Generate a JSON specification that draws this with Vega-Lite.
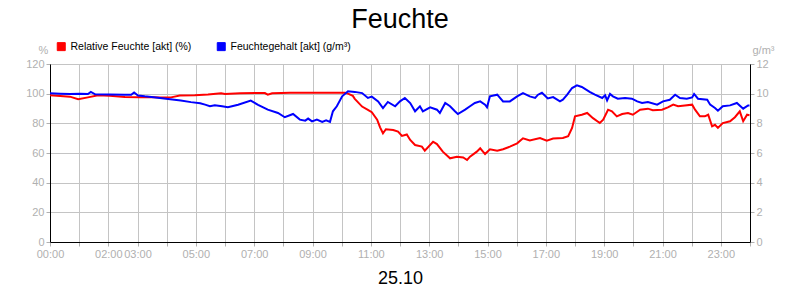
{
  "$schema": "https://vega.github.io/schema/vega-lite/v6.json",
  "width": 700,
  "height": 178,
  "autosize": "none",
  "padding": {"left": 50, "top": 64, "right": 50, "bottom": 58},
  "background": "white",
  "title": {"text": "Feuchte", "fontSize": 27, "font": "Liberation Sans", "fontWeight": "normal", "color": "black", "anchor": "middle", "offset": 7},
  "datasets": {
    "rel": [
      {"t": "2023-10-25T00:00", "v": 98.9}, {"t": "2023-10-25T00:21", "v": 98.5}, {"t": "2023-10-25T00:41", "v": 98.0},
      {"t": "2023-10-25T00:58", "v": 96.3}, {"t": "2023-10-25T01:18", "v": 97.5}, {"t": "2023-10-25T01:39", "v": 98.9},
      {"t": "2023-10-25T02:03", "v": 98.6}, {"t": "2023-10-25T02:34", "v": 97.8}, {"t": "2023-10-25T03:05", "v": 97.6},
      {"t": "2023-10-25T03:22", "v": 97.8}, {"t": "2023-10-25T03:46", "v": 97.4}, {"t": "2023-10-25T04:09", "v": 97.5},
      {"t": "2023-10-25T04:27", "v": 98.7}, {"t": "2023-10-25T04:58", "v": 98.9}, {"t": "2023-10-25T05:25", "v": 99.4},
      {"t": "2023-10-25T05:52", "v": 100.3}, {"t": "2023-10-25T06:00", "v": 99.8}, {"t": "2023-10-25T06:31", "v": 100.2},
      {"t": "2023-10-25T07:02", "v": 100.4}, {"t": "2023-10-25T07:22", "v": 100.4}, {"t": "2023-10-25T07:28", "v": 99.3},
      {"t": "2023-10-25T07:37", "v": 100.3}, {"t": "2023-10-25T08:14", "v": 100.6}, {"t": "2023-10-25T08:55", "v": 100.6},
      {"t": "2023-10-25T09:36", "v": 100.6}, {"t": "2023-10-25T10:07", "v": 100.6}, {"t": "2023-10-25T10:13", "v": 100.0},
      {"t": "2023-10-25T10:23", "v": 98.5}, {"t": "2023-10-25T10:27", "v": 96.5}, {"t": "2023-10-25T10:42", "v": 91.3},
      {"t": "2023-10-25T10:54", "v": 89.1}, {"t": "2023-10-25T11:02", "v": 87.5}, {"t": "2023-10-25T11:13", "v": 82.5},
      {"t": "2023-10-25T11:19", "v": 77.3}, {"t": "2023-10-25T11:25", "v": 73.3}, {"t": "2023-10-25T11:31", "v": 76.0},
      {"t": "2023-10-25T11:46", "v": 75.5}, {"t": "2023-10-25T11:56", "v": 74.4}, {"t": "2023-10-25T12:04", "v": 71.5},
      {"t": "2023-10-25T12:14", "v": 72.5}, {"t": "2023-10-25T12:21", "v": 68.8}, {"t": "2023-10-25T12:31", "v": 65.4},
      {"t": "2023-10-25T12:45", "v": 64.3}, {"t": "2023-10-25T12:51", "v": 61.6}, {"t": "2023-10-25T13:08", "v": 67.6},
      {"t": "2023-10-25T13:16", "v": 66.0}, {"t": "2023-10-25T13:28", "v": 60.9}, {"t": "2023-10-25T13:43", "v": 56.4},
      {"t": "2023-10-25T13:57", "v": 57.5}, {"t": "2023-10-25T14:10", "v": 57.0}, {"t": "2023-10-25T14:18", "v": 55.3},
      {"t": "2023-10-25T14:24", "v": 57.5}, {"t": "2023-10-25T14:38", "v": 60.9}, {"t": "2023-10-25T14:45", "v": 63.2},
      {"t": "2023-10-25T14:55", "v": 59.3}, {"t": "2023-10-25T15:05", "v": 62.5}, {"t": "2023-10-25T15:20", "v": 61.5},
      {"t": "2023-10-25T15:32", "v": 62.5}, {"t": "2023-10-25T15:46", "v": 64.3}, {"t": "2023-10-25T16:01", "v": 66.5},
      {"t": "2023-10-25T16:13", "v": 69.9}, {"t": "2023-10-25T16:27", "v": 68.5}, {"t": "2023-10-25T16:48", "v": 70.1},
      {"t": "2023-10-25T17:02", "v": 68.3}, {"t": "2023-10-25T17:15", "v": 69.7}, {"t": "2023-10-25T17:35", "v": 70.1},
      {"t": "2023-10-25T17:46", "v": 71.3}, {"t": "2023-10-25T17:54", "v": 76.9}, {"t": "2023-10-25T18:00", "v": 84.7},
      {"t": "2023-10-25T18:14", "v": 85.8}, {"t": "2023-10-25T18:25", "v": 87.0}, {"t": "2023-10-25T18:37", "v": 83.5},
      {"t": "2023-10-25T18:51", "v": 80.2}, {"t": "2023-10-25T18:58", "v": 82.5}, {"t": "2023-10-25T19:08", "v": 89.2},
      {"t": "2023-10-25T19:16", "v": 88.1}, {"t": "2023-10-25T19:26", "v": 84.7}, {"t": "2023-10-25T19:37", "v": 86.3},
      {"t": "2023-10-25T19:49", "v": 87.0}, {"t": "2023-10-25T19:59", "v": 85.8}, {"t": "2023-10-25T20:14", "v": 89.2},
      {"t": "2023-10-25T20:30", "v": 89.9}, {"t": "2023-10-25T20:40", "v": 88.8}, {"t": "2023-10-25T20:59", "v": 89.2},
      {"t": "2023-10-25T21:11", "v": 90.8}, {"t": "2023-10-25T21:22", "v": 92.6}, {"t": "2023-10-25T21:32", "v": 91.5},
      {"t": "2023-10-25T21:46", "v": 92.1}, {"t": "2023-10-25T22:01", "v": 92.6}, {"t": "2023-10-25T22:07", "v": 89.2},
      {"t": "2023-10-25T22:17", "v": 84.7}, {"t": "2023-10-25T22:27", "v": 84.7}, {"t": "2023-10-25T22:34", "v": 85.8},
      {"t": "2023-10-25T22:42", "v": 78.0}, {"t": "2023-10-25T22:48", "v": 79.0}, {"t": "2023-10-25T22:54", "v": 76.9},
      {"t": "2023-10-25T23:04", "v": 80.2}, {"t": "2023-10-25T23:19", "v": 81.4}, {"t": "2023-10-25T23:29", "v": 84.1},
      {"t": "2023-10-25T23:39", "v": 88.1}, {"t": "2023-10-25T23:46", "v": 81.4}, {"t": "2023-10-25T23:54", "v": 85.8},
      {"t": "2023-10-25T23:59", "v": 85.5}
    ],
    "geh": [
      {"t": "2023-10-25T00:00", "v": 10.02}, {"t": "2023-10-25T00:21", "v": 10.0}, {"t": "2023-10-25T00:41", "v": 9.98},
      {"t": "2023-10-25T01:02", "v": 10.0}, {"t": "2023-10-25T01:18", "v": 9.98}, {"t": "2023-10-25T01:24", "v": 10.12},
      {"t": "2023-10-25T01:33", "v": 9.96}, {"t": "2023-10-25T02:03", "v": 9.95}, {"t": "2023-10-25T02:34", "v": 9.92},
      {"t": "2023-10-25T02:47", "v": 9.93}, {"t": "2023-10-25T02:53", "v": 10.08}, {"t": "2023-10-25T03:01", "v": 9.88},
      {"t": "2023-10-25T03:15", "v": 9.82}, {"t": "2023-10-25T03:42", "v": 9.73}, {"t": "2023-10-25T04:03", "v": 9.64},
      {"t": "2023-10-25T04:29", "v": 9.54}, {"t": "2023-10-25T04:50", "v": 9.43}, {"t": "2023-10-25T05:09", "v": 9.35},
      {"t": "2023-10-25T05:19", "v": 9.26}, {"t": "2023-10-25T05:29", "v": 9.16}, {"t": "2023-10-25T05:39", "v": 9.22},
      {"t": "2023-10-25T05:54", "v": 9.15}, {"t": "2023-10-25T06:06", "v": 9.08}, {"t": "2023-10-25T06:27", "v": 9.25},
      {"t": "2023-10-25T06:53", "v": 9.53}, {"t": "2023-10-25T07:08", "v": 9.25}, {"t": "2023-10-25T07:28", "v": 8.92},
      {"t": "2023-10-25T07:49", "v": 8.7}, {"t": "2023-10-25T08:03", "v": 8.41}, {"t": "2023-10-25T08:20", "v": 8.63},
      {"t": "2023-10-25T08:34", "v": 8.25}, {"t": "2023-10-25T08:45", "v": 8.18}, {"t": "2023-10-25T08:51", "v": 8.32},
      {"t": "2023-10-25T08:59", "v": 8.13}, {"t": "2023-10-25T09:09", "v": 8.25}, {"t": "2023-10-25T09:20", "v": 8.1},
      {"t": "2023-10-25T09:28", "v": 8.2}, {"t": "2023-10-25T09:36", "v": 8.1}, {"t": "2023-10-25T09:42", "v": 8.81},
      {"t": "2023-10-25T09:50", "v": 9.15}, {"t": "2023-10-25T10:01", "v": 9.82}, {"t": "2023-10-25T10:13", "v": 10.16},
      {"t": "2023-10-25T10:27", "v": 10.12}, {"t": "2023-10-25T10:42", "v": 10.04}, {"t": "2023-10-25T10:54", "v": 9.71},
      {"t": "2023-10-25T11:02", "v": 9.8}, {"t": "2023-10-25T11:15", "v": 9.48}, {"t": "2023-10-25T11:25", "v": 9.03},
      {"t": "2023-10-25T11:35", "v": 9.44}, {"t": "2023-10-25T11:50", "v": 9.15}, {"t": "2023-10-25T12:00", "v": 9.48},
      {"t": "2023-10-25T12:10", "v": 9.71}, {"t": "2023-10-25T12:21", "v": 9.37}, {"t": "2023-10-25T12:31", "v": 8.81},
      {"t": "2023-10-25T12:41", "v": 9.15}, {"t": "2023-10-25T12:47", "v": 8.81}, {"t": "2023-10-25T13:02", "v": 9.08},
      {"t": "2023-10-25T13:16", "v": 8.92}, {"t": "2023-10-25T13:22", "v": 8.7}, {"t": "2023-10-25T13:33", "v": 9.37},
      {"t": "2023-10-25T13:43", "v": 9.15}, {"t": "2023-10-25T13:53", "v": 8.81}, {"t": "2023-10-25T13:59", "v": 8.63},
      {"t": "2023-10-25T14:14", "v": 8.92}, {"t": "2023-10-25T14:24", "v": 9.15}, {"t": "2023-10-25T14:34", "v": 9.37},
      {"t": "2023-10-25T14:45", "v": 9.48}, {"t": "2023-10-25T14:55", "v": 9.26}, {"t": "2023-10-25T14:59", "v": 9.08},
      {"t": "2023-10-25T15:05", "v": 9.82}, {"t": "2023-10-25T15:20", "v": 9.93}, {"t": "2023-10-25T15:32", "v": 9.48},
      {"t": "2023-10-25T15:46", "v": 9.48}, {"t": "2023-10-25T16:01", "v": 9.82}, {"t": "2023-10-25T16:13", "v": 10.04},
      {"t": "2023-10-25T16:27", "v": 9.82}, {"t": "2023-10-25T16:38", "v": 9.71}, {"t": "2023-10-25T16:44", "v": 9.93},
      {"t": "2023-10-25T16:52", "v": 10.06}, {"t": "2023-10-25T17:04", "v": 9.68}, {"t": "2023-10-25T17:15", "v": 9.77},
      {"t": "2023-10-25T17:29", "v": 9.48}, {"t": "2023-10-25T17:35", "v": 9.6}, {"t": "2023-10-25T17:44", "v": 9.93},
      {"t": "2023-10-25T17:54", "v": 10.38}, {"t": "2023-10-25T18:04", "v": 10.56}, {"t": "2023-10-25T18:14", "v": 10.45},
      {"t": "2023-10-25T18:31", "v": 10.11}, {"t": "2023-10-25T18:41", "v": 9.93}, {"t": "2023-10-25T18:56", "v": 9.71},
      {"t": "2023-10-25T19:02", "v": 9.89}, {"t": "2023-10-25T19:06", "v": 9.55}, {"t": "2023-10-25T19:12", "v": 9.98},
      {"t": "2023-10-25T19:18", "v": 9.82}, {"t": "2023-10-25T19:28", "v": 9.66}, {"t": "2023-10-25T19:43", "v": 9.71},
      {"t": "2023-10-25T19:57", "v": 9.66}, {"t": "2023-10-25T20:08", "v": 9.48}, {"t": "2023-10-25T20:18", "v": 9.37},
      {"t": "2023-10-25T20:30", "v": 9.44}, {"t": "2023-10-25T20:49", "v": 9.26}, {"t": "2023-10-25T21:01", "v": 9.48},
      {"t": "2023-10-25T21:15", "v": 9.59}, {"t": "2023-10-25T21:26", "v": 9.93}, {"t": "2023-10-25T21:36", "v": 9.71},
      {"t": "2023-10-25T21:50", "v": 9.66}, {"t": "2023-10-25T22:01", "v": 9.75}, {"t": "2023-10-25T22:05", "v": 9.98},
      {"t": "2023-10-25T22:13", "v": 9.66}, {"t": "2023-10-25T22:32", "v": 9.59}, {"t": "2023-10-25T22:38", "v": 9.26},
      {"t": "2023-10-25T22:48", "v": 9.03}, {"t": "2023-10-25T22:54", "v": 8.85}, {"t": "2023-10-25T23:04", "v": 9.15},
      {"t": "2023-10-25T23:19", "v": 9.21}, {"t": "2023-10-25T23:33", "v": 9.37}, {"t": "2023-10-25T23:46", "v": 8.99},
      {"t": "2023-10-25T23:56", "v": 9.21}, {"t": "2023-10-25T23:59", "v": 9.21}
    ]
  },
  "encoding": {
    "x": {
      "field": "t",
      "type": "temporal",
      "scale": {"domain": [{"year": 2023, "month": 10, "date": 25, "hours": 0}, {"year": 2023, "month": 10, "date": 26, "hours": 0}]},
      "axis": {
        "title": "25.10",
        "titleFontSize": 18,
        "titleColor": "black",
        "titleFontWeight": "normal",
        "titlePadding": 10,
        "tickCount": 24,
        "labelExpr": "date(datum.value) == 25 && indexof([0,2,3,5,7,9,11,13,15,17,19,21,23], hours(datum.value)) >= 0 ? timeFormat(datum.value, '%H:%M') : ''",
        "labelOverlap": false,
        "labelFlush": false,
        "grid": true
      }
    }
  },
  "layer": [
    {
      "data": {"name": "rel"},
      "mark": {"type": "line", "strokeWidth": 2, "interpolate": "linear"},
      "encoding": {
        "y": {
          "field": "v",
          "type": "quantitative",
          "scale": {"domain": [0, 120]},
          "axis": {
            "orient": "left",
            "values": [0, 20, 40, 60, 80, 100, 120],
            "grid": true,
            "title": "%",
            "titleAngle": 0,
            "titleX": -7,
            "titleY": -14,
            "titleAlign": "center",
            "titleBaseline": "middle",
            "titleColor": "#b0b0b0",
            "titleFontSize": 11,
            "titleFontWeight": "normal"
          }
        },
        "color": {
          "datum": "Relative Feuchte [akt] (%)",
          "type": "nominal",
          "scale": {"domain": ["Relative Feuchte [akt] (%)", "Feuchtegehalt [akt] (g/m³)"], "range": ["#ff0000", "#0000ff"]},
          "legend": {
            "orient": "none",
            "legendX": 6,
            "legendY": -23,
            "direction": "horizontal",
            "title": null,
            "symbolType": "square",
            "symbolSize": 64,
            "symbolStrokeWidth": 1,
            "labelFontSize": 10.5,
            "labelColor": "black",
            "labelOffset": 4,
            "columnPadding": 23,
            "encode": {
              "symbols": {"update": {"fill": {"scale": "color", "field": "value"}, "stroke": {"value": "black"}}}
            }
          }
        }
      }
    },
    {
      "data": {"name": "geh"},
      "mark": {"type": "line", "strokeWidth": 2, "interpolate": "linear"},
      "encoding": {
        "y": {
          "field": "v",
          "type": "quantitative",
          "scale": {"domain": [0, 12]},
          "axis": {
            "orient": "right",
            "values": [0, 2, 4, 6, 8, 10, 12],
            "grid": false,
            "title": "g/m³",
            "titleAngle": 0,
            "titleX": 13,
            "titleY": -14,
            "titleAlign": "center",
            "titleBaseline": "middle",
            "titleColor": "#b0b0b0",
            "titleFontSize": 11,
            "titleFontWeight": "normal"
          }
        },
        "color": {"datum": "Feuchtegehalt [akt] (g/m³)", "type": "nominal"}
      }
    }
  ],
  "resolve": {"scale": {"y": "independent"}, "axis": {"y": "independent"}},
  "config": {
    "font": "Liberation Sans",
    "view": {"stroke": "black", "strokeWidth": 1},
    "axis": {
      "labelColor": "#b0b0b0",
      "labelFontSize": 11,
      "labelPadding": 2,
      "tickColor": "#b0b0b0",
      "tickSize": 4,
      "domainColor": "black",
      "gridColor": "#c4c4c4",
      "gridOpacity": 1
    }
  }
}
